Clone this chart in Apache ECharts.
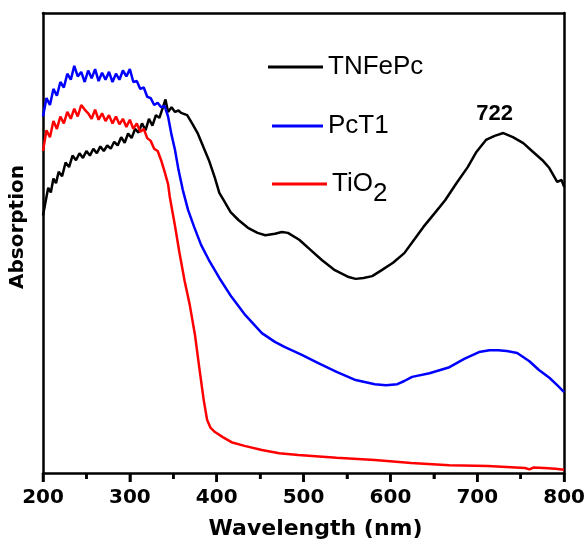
<!DOCTYPE html>
<html>
<head>
<meta charset="utf-8">
<script src="https://cdn.jsdelivr.net/npm/echarts@6/dist/echarts.min.js"></script>
<style>
html,body{margin:0;padding:0;background:#fff;}
#chart{width:588px;height:549px;}
</style>
</head>
<body>
<div id="chart"></div>
<script>
// Wavelength (nm) / absorption (arbitrary units) pairs
const xTicks = [200, 300, 400, 500, 600, 700, 800];
const xMinorTicks = [250, 350, 450, 550, 650, 750];

const tnfepcWl = [200,203,206,209,212,215,218,222,226,230,234,238,242,246,250,254,258,262,266,270,274,278,282,286,290,294,298,302,306,310,314,318,322,326,330,334,338,341,344,348,352,356,359,366,372,378,385,391,398,403,408,416,425,436,447,456,467,475,482,495,508,521,536,552,560,569,579,590,603,616,626,638,651,663,676,689,699,710,720,730,741,753,763,775,783,792,797,800];
const tnfepcAbs = [0.56,0.59,0.62,0.61,0.64,0.63,0.655,0.645,0.675,0.665,0.69,0.68,0.695,0.685,0.70,0.69,0.705,0.695,0.71,0.70,0.712,0.705,0.72,0.712,0.73,0.718,0.738,0.728,0.748,0.74,0.76,0.745,0.77,0.755,0.778,0.772,0.795,0.812,0.785,0.795,0.785,0.788,0.783,0.778,0.759,0.739,0.707,0.68,0.641,0.609,0.593,0.567,0.55,0.533,0.522,0.517,0.52,0.524,0.522,0.507,0.485,0.463,0.441,0.426,0.422,0.424,0.428,0.441,0.457,0.478,0.504,0.535,0.565,0.593,0.63,0.665,0.698,0.724,0.733,0.739,0.73,0.717,0.70,0.68,0.663,0.633,0.637,0.622];

const pct1Wl = [200,204,208,212,216,220,224,228,232,236,240,244,248,252,256,260,264,268,272,276,280,284,288,292,296,300,304,308,312,316,320,324,328,332,336,340,344,348,352,356,361,367,374,382,391,403,417,433,452,467,478,498,517,538,560,582,595,608,616,625,645,668,685,702,714,724,734,746,760,771,783,792,800];
const pct1Abs = [0.775,0.815,0.80,0.835,0.82,0.85,0.838,0.868,0.855,0.885,0.862,0.872,0.85,0.875,0.858,0.878,0.852,0.87,0.855,0.872,0.85,0.868,0.855,0.875,0.862,0.878,0.85,0.852,0.835,0.838,0.818,0.815,0.80,0.805,0.795,0.798,0.775,0.735,0.702,0.659,0.615,0.572,0.535,0.496,0.463,0.424,0.383,0.343,0.304,0.285,0.274,0.257,0.239,0.22,0.202,0.193,0.191,0.193,0.20,0.209,0.217,0.23,0.248,0.263,0.267,0.267,0.265,0.261,0.243,0.224,0.207,0.191,0.176];

const tio2Wl = [200,204,208,212,216,220,224,228,232,236,240,244,248,252,256,260,264,268,272,276,280,284,288,292,296,300,304,308,312,316,320,324,328,332,336,340,344,346,352,357,363,369,375,380,385,389,393,398,407,417,432,452,472,494,538,582,624,668,712,755,760,765,777,790,800];
const tio2Abs = [0.70,0.745,0.73,0.765,0.748,0.775,0.76,0.785,0.77,0.792,0.775,0.80,0.79,0.782,0.77,0.79,0.768,0.782,0.765,0.778,0.76,0.775,0.758,0.77,0.752,0.768,0.748,0.76,0.742,0.748,0.728,0.722,0.705,0.70,0.68,0.655,0.628,0.60,0.537,0.48,0.418,0.365,0.30,0.228,0.159,0.115,0.098,0.089,0.078,0.067,0.059,0.05,0.043,0.039,0.033,0.028,0.022,0.017,0.015,0.011,0.008,0.012,0.011,0.009,0.007];

const peakLabel = {text: '722', wl: 720, abs: 0.7815};
const xTitle = 'Wavelength (nm)';
const yTitle = 'Absorption';

function pairs(xs, ys){ return xs.map((x,i)=>[x, ys[i]]); }

const chart = echarts.init(document.getElementById('chart'), null, {renderer:'canvas'});
const legendFont = 'Liberation Sans, Arial, sans-serif';
const legendText = {fontFamily:legendFont, fontSize:26, color:'#000'};
const legendBase = {padding:0, icon:'rect', itemHeight:3, itemGap:0};
const frameLine = {show:true, onZero:false, lineStyle:{color:'#000', width:2.5}};
chart.setOption({
  animation:false,
  backgroundColor:'#fff',
  grid:{left:43, right:23, top:13, bottom:76},
  legend:[
    Object.assign({data:['TNFePc'], left:268, top:54, itemWidth:55, textStyle:legendText}, legendBase),
    Object.assign({data:['PcT1'], left:272, top:113, itemWidth:51, textStyle:legendText}, legendBase),
    Object.assign({data:['TiO2'], left:272, top:171, itemWidth:55,
      formatter:()=>'TiO{sub|2}',
      textStyle:Object.assign({}, legendText, {rich:{sub:{fontFamily:legendFont, fontSize:26, color:'#000', padding:[20,0,0,0]}}})}, legendBase)
  ],
  xAxis:[{
    type:'value', min:200, max:800, interval:100,
    axisLine:frameLine,
    axisTick:{show:true, length:9, lineStyle:{color:'#000', width:2.5}},
    minorTick:{show:true, splitNumber:2, length:6, lineStyle:{color:'#000', width:2.5}},
    splitLine:{show:false},
    axisLabel:{margin:15, fontFamily:'DejaVu Sans', fontWeight:'bold', fontSize:20, color:'#000'}
  },{
    type:'value', min:200, max:800, position:'top',
    axisLine:frameLine, axisTick:{show:false}, axisLabel:{show:false}, splitLine:{show:false}
  }],
  yAxis:[{
    type:'value', min:0, max:1, position:'left',
    axisLine:frameLine,
    axisTick:{show:false}, axisLabel:{show:false}, splitLine:{show:false}
  },{
    type:'value', min:0, max:1, position:'right',
    axisLine:frameLine, axisTick:{show:false}, axisLabel:{show:false}, splitLine:{show:false}
  }],
  series:[
    {name:'TNFePc', type:'line', data:pairs(tnfepcWl, tnfepcAbs), symbol:'none', color:'#000',
      lineStyle:{color:'#000', width:2.5},
      markPoint:{symbol:'circle', symbolSize:0, silent:true,
        label:{show:true, position:'inside', formatter:peakLabel.text, fontFamily:legendFont, fontWeight:'bold', fontSize:22, color:'#000'},
        data:[{coord:[peakLabel.wl, peakLabel.abs]}]}},
    {name:'PcT1', type:'line', data:pairs(pct1Wl, pct1Abs), symbol:'none', color:'#0000ff',
      lineStyle:{color:'#0000ff', width:2.5}},
    {name:'TiO2', type:'line', data:pairs(tio2Wl, tio2Abs), symbol:'none', color:'#ff0000',
      lineStyle:{color:'#ff0000', width:2.5}}
  ]
});

// Axis titles and tick marks placed through the chart's own scales
const axisY = chart.convertToPixel({yAxisIndex:0}, 0);
const xLeft = chart.convertToPixel({xAxisIndex:0}, 200);
const xRight = chart.convertToPixel({xAxisIndex:0}, 800);
const yTop = chart.convertToPixel({yAxisIndex:0}, 1);
const tickGraphics = xTicks.concat(xMinorTicks).map(v => {
  const px = chart.convertToPixel({xAxisIndex:0}, v);
  const len = xTicks.includes(v) ? 9 : 6;
  return {type:'line', z:100, silent:true,
    shape:{x1:px, y1:axisY, x2:px, y2:axisY + len},
    style:{stroke:'#000', lineWidth:2.5}};
});
chart.setOption({
  graphic:tickGraphics.concat([
    {type:'text', z:100, silent:true, x:(xLeft + xRight) / 2 + 12, y:axisY + 56,
      style:{text:xTitle, fontFamily:'DejaVu Sans', fontWeight:'bold', fontSize:22, fill:'#000', align:'center', verticalAlign:'middle'}},
    {type:'text', z:100, silent:true, x:xLeft - 25, y:(axisY + yTop) / 2 - 16, rotation:Math.PI / 2,
      style:{text:yTitle, fontFamily:'DejaVu Sans', fontWeight:'bold', fontSize:20, fill:'#000', align:'center', verticalAlign:'middle'}}
  ])
});
</script>
</body>
</html>
